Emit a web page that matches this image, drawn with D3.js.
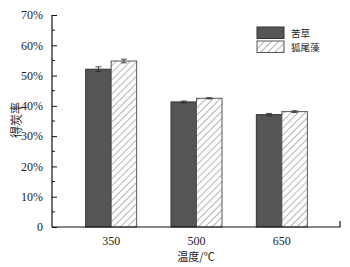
<!DOCTYPE html>
<html>
<head>
<meta charset="utf-8">
<script src="https://cdn.jsdelivr.net/npm/d3@7"></script>
<style>
  html, body { margin: 0; padding: 0; background: #fff; }
  svg { display: block; }
</style>
</head>
<body>
<div id="chart"></div>
<script>
// temperatures and char yield (fraction) for the two plants
const temps = ["350", "500", "650"];
const seriesNames = ["苦草", "狐尾藻"];
const kucao = [0.521, 0.413, 0.371];
const kucaoErr = [0.008, 0.003, 0.004];
const huweizao = [0.548, 0.425, 0.381];
const huweizaoErr = [0.006, 0.002, 0.003];
const yTicks = [0, 0.1, 0.2, 0.3, 0.4, 0.5, 0.6, 0.7];

const W = 350, H = 267;
const axisX0 = 52, axisX1 = 340, axisY = 227, axisTop = 15;
const serif = "'Liberation Serif', 'Times New Roman', serif";
const cjk = "'Noto Sans CJK SC', sans-serif";

const svg = d3.select("#chart").append("svg")
    .attr("width", W)
    .attr("height", H);

const defs = svg.append("defs");
const pat = defs.append("pattern")
    .attr("id", "hatch")
    .attr("patternUnits", "userSpaceOnUse")
    .attr("width", 5)
    .attr("height", 5)
    .attr("patternTransform", "rotate(45)");
pat.append("rect").attr("width", 5).attr("height", 5).attr("fill", "#fff");
pat.append("line")
    .attr("x1", 0).attr("y1", 0).attr("x2", 0).attr("y2", 5)
    .attr("stroke", "#777").attr("stroke-width", 1.1);

const x = d3.scaleBand()
    .domain(temps)
    .range([68.5, 324.5]);
const sub = d3.scaleBand()
    .domain([0, 1])
    .range([0, 51]);
const y = d3.scaleLinear()
    .domain([0, 0.7])
    .range([axisY, axisTop]);

const series = [
    { name: seriesNames[0], values: kucao, err: kucaoErr, fill: "#555", stroke: "#333" },
    { name: seriesNames[1], values: huweizao, err: huweizaoErr, fill: "url(#hatch)", stroke: "#555" }
];

// bars
series.forEach((s, si) => {
    const g = svg.append("g");
    temps.forEach((t, i) => {
        const bx = x(t) + x.bandwidth() / 2 - 25.5 + sub(si);
        g.append("rect")
            .attr("x", bx)
            .attr("y", y(s.values[i]))
            .attr("width", sub.bandwidth())
            .attr("height", axisY - y(s.values[i]))
            .attr("fill", s.fill)
            .attr("stroke", s.stroke)
            .attr("stroke-width", 1);
        const cx = bx + sub.bandwidth() / 2;
        const hi = y(s.values[i] + s.err[i]), lo = y(s.values[i] - s.err[i]);
        g.append("path")
            .attr("d", `M${cx},${hi}V${lo}M${cx - 3},${hi}H${cx + 3}M${cx - 3},${lo}H${cx + 3}`)
            .attr("stroke", "#222")
            .attr("stroke-width", 0.8)
            .attr("fill", "none");
    });
});

// y axis
const yAxis = d3.axisLeft(y)
    .tickValues(yTicks)
    .tickSize(-5)
    .tickPadding(9)
    .tickFormat(d => d === 0 ? "0" : Math.round(d * 100) + "%");
const yg = svg.append("g")
    .attr("transform", `translate(${axisX0},0)`)
    .call(yAxis);
yg.select(".domain").remove();
yg.selectAll("text")
    .attr("font-family", serif)
    .attr("font-size", 12)
    .attr("fill", "#222");
yg.selectAll("line").attr("stroke", "#111");
// minor ticks
svg.append("g").selectAll("line")
    .data(d3.range(0.05, 0.7, 0.1))
    .enter().append("line")
    .attr("x1", axisX0).attr("x2", axisX0 + 3)
    .attr("y1", d => y(d)).attr("y2", d => y(d))
    .attr("stroke", "#111");
svg.append("line")
    .attr("x1", axisX0).attr("x2", axisX0)
    .attr("y1", axisTop).attr("y2", axisY)
    .attr("stroke", "#111").attr("stroke-width", 1.2);

// x axis
svg.append("path")
    .attr("d", `M${axisX0},${axisY}H${axisX1}V${axisY - 6}`)
    .attr("stroke", "#111")
    .attr("stroke-width", 1.2)
    .attr("fill", "none");
svg.append("g").selectAll("text")
    .data(temps)
    .enter().append("text")
    .attr("x", d => x(d) + x.bandwidth() / 2)
    .attr("y", 245)
    .attr("text-anchor", "middle")
    .attr("font-family", serif)
    .attr("font-size", 12)
    .attr("fill", "#222")
    .text(d => d);

svg.append("text")
    .attr("x", 196)
    .attr("y", 261)
    .attr("text-anchor", "middle")
    .attr("font-family", cjk)
    .attr("font-size", 11)
    .attr("fill", "#222")
    .text("温度/℃");

svg.append("text")
    .attr("transform", "translate(21,120) rotate(-90)")
    .attr("text-anchor", "middle")
    .attr("font-family", cjk)
    .attr("font-size", 12)
    .attr("fill", "#222")
    .text("得炭率");

// legend
const leg = svg.append("g").attr("transform", "translate(257,27)");
series.forEach((s, i) => {
    leg.append("rect")
        .attr("x", 0)
        .attr("y", i * 14)
        .attr("width", 27)
        .attr("height", 11.5)
        .attr("fill", s.fill)
        .attr("stroke", s.stroke);
    leg.append("text")
        .attr("x", 34)
        .attr("y", i * 14 + 9.5)
        .attr("font-family", cjk)
        .attr("font-size", 9.5)
        .attr("fill", "#222")
        .text(s.name);
});
</script>
</body>
</html>
